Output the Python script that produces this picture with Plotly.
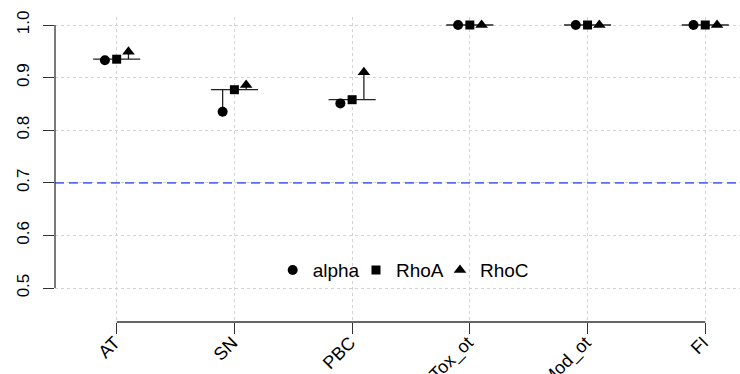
import plotly.graph_objects as go

categories = ["AT", "SN", "PBC", "Tox_ot", "Mod_ot", "FI"]
alpha = [0.933, 0.835, 0.851, 1.0, 1.0, 1.0]
rhoA = [0.935, 0.877, 0.858, 1.0, 1.0, 1.0]
rhoC = [0.949, 0.886, 0.910, 1.0, 1.0, 1.0]
y_ticks = [0.5, 0.6, 0.7, 0.8, 0.9, 1.0]
threshold = 0.7

xpos = list(range(1, len(categories) + 1))
X_RANGE = [0.476, 6.295]
Y_RANGE = [0.4355, 1.0152]
FONT = "Liberation Sans, Arial, Helvetica, sans-serif"


def xpaper(v):
    return (v - X_RANGE[0]) / (X_RANGE[1] - X_RANGE[0])


def ypaper(v):
    return (v - Y_RANGE[0]) / (Y_RANGE[1] - Y_RANGE[0])


fig = go.Figure()

# horizontal reference segment at RhoA and stems
hx, hy, sx, sy = [], [], [], []
for i, a, r, c in zip(xpos, alpha, rhoA, rhoC):
    hx += [i - 0.2, i + 0.2, None]
    hy += [r, r, None]
    sx += [i - 0.1, i - 0.1, None, i + 0.1, i + 0.1, None]
    sy += [r, a, None, r, c, None]

fig.add_trace(go.Scatter(x=hx, y=hy, mode="lines", line=dict(color="#222", width=1.3),
                         showlegend=False, hoverinfo="skip"))
fig.add_trace(go.Scatter(x=sx, y=sy, mode="lines", line=dict(color="#222", width=1.3),
                         showlegend=False, hoverinfo="skip"))

fig.add_trace(go.Scatter(x=[i - 0.1 for i in xpos], y=alpha, mode="markers", name="alpha",
                         legend="legend",
                         marker=dict(symbol="circle", size=10, color="black")))
fig.add_trace(go.Scatter(x=xpos, y=rhoA, mode="markers", name="RhoA",
                         legend="legend2",
                         marker=dict(symbol="square", size=9, color="black")))
fig.add_trace(go.Scatter(x=[i + 0.1 for i in xpos], y=rhoC, mode="markers", name="RhoC",
                         legend="legend3",
                         marker=dict(symbol="triangle-up", size=11, color="black")))

fig.add_hline(y=threshold, line=dict(color="#5a6cf2", width=1.6, dash="9px,5px"), layer="above")

# R-style axis lines spanning only the ticks
fig.add_shape(type="line", xref="paper", yref="paper", x0=0, x1=0,
              y0=ypaper(y_ticks[0]), y1=ypaper(y_ticks[-1]),
              line=dict(color="#333", width=1.3))
fig.add_shape(type="line", xref="paper", yref="paper", y0=0, y1=0,
              x0=xpaper(xpos[0]), x1=xpaper(xpos[-1]),
              line=dict(color="#333", width=1.3))

leg_common = dict(orientation="h", y=0.17, xanchor="left", yanchor="middle",
                  bgcolor="rgba(0,0,0,0)", font=dict(size=19), itemwidth=30)

fig.update_layout(
    width=740, height=374,
    margin=dict(l=55, r=0, t=17, b=52),
    plot_bgcolor="white", paper_bgcolor="white",
    font=dict(family=FONT, size=17, color="black"),
    legend=dict(x=0.3178, **leg_common),
    legend2=dict(x=0.4394, **leg_common),
    legend3=dict(x=0.5620, **leg_common),
    xaxis=dict(range=X_RANGE, tickmode="array", tickvals=xpos, ticktext=categories,
               tickangle=-45, ticks="outside", ticklen=11, tickcolor="#333", tickwidth=1.3,
               tickfont=dict(size=18),
               ticklabelstandoff=-9, ticklabelshift=-2,
               showline=False, zeroline=False, automargin=False,
               showgrid=True, gridcolor="#d3d3d3", griddash="dot", gridwidth=1),
    yaxis=dict(range=Y_RANGE, tickmode="array", tickvals=y_ticks,
               ticktext=[f"{v:.1f}" for v in y_ticks], tickangle=-90,
               ticks="outside", ticklen=11, tickcolor="#333", tickwidth=1.3,
               ticklabelstandoff=7,
               showline=False, zeroline=False, automargin=False,
               showgrid=True, gridcolor="#d3d3d3", griddash="dot", gridwidth=1),
)

fig.write_html("out.html", config={"displayModeBar": False},
               post_script="document.body.style.margin='0';document.body.style.overflow='hidden';")
